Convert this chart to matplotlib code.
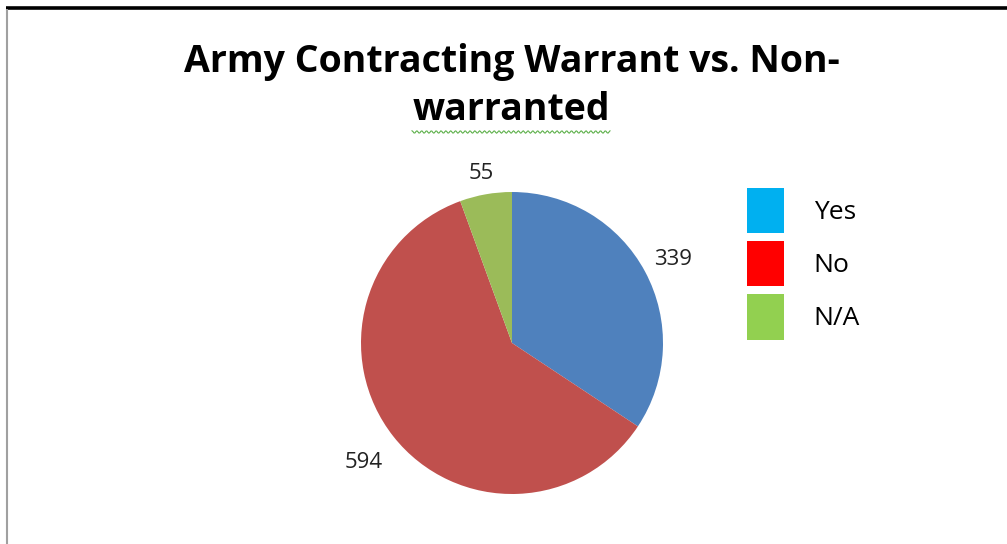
import numpy as np
import matplotlib
matplotlib.use("Agg")
import matplotlib.pyplot as plt
from matplotlib.patches import Patch

categories = ["Yes", "No", "N/A"]
values = [339, 594, 55]
pie_colors = ["#4F81BD", "#C0504D", "#9BBB59"]
legend_colors = ["#00B0F0", "#FF0000", "#92D050"]
title_lines = ["Army Contracting Warrant vs. Non-", "warranted"]
label_dist = [1.21, 1.25, 1.16]

W, H = 1007, 544
fig = plt.figure(figsize=(W / 100, H / 100), dpi=100)
fig.patch.set_facecolor("white")
ax = fig.add_axes([0, 0, 1, 1])

cx, cy, r = 512, H - 343, 151
wedges, _ = ax.pie(values, colors=pie_colors, startangle=90, counterclock=False,
                   center=(cx, cy), radius=r, frame=True,
                   wedgeprops=dict(edgecolor="none", linewidth=0))
ax.set_xlim(0, W)
ax.set_ylim(0, H)
ax.set_aspect("equal")
ax.axis("off")

for w, v, d in zip(wedges, values, label_dist):
    ang = np.deg2rad((w.theta1 + w.theta2) / 2)
    ax.text(cx + d * r * np.cos(ang), cy + d * r * np.sin(ang), str(v),
            ha="center", va="center_baseline", fontsize=16, family="Open Sans",
            color="#222222")

# title
ax.text(512, H - 62, title_lines[0], ha="center", va="center",
        fontsize=27, family="Open Sans", fontweight="bold", color="black")
ax.text(511, H - 110, title_lines[1], ha="center", va="center",
        fontsize=27, family="Open Sans", fontweight="bold", color="black")
# spell-check squiggle
xs = np.linspace(412, 610, 200)
ax.plot(xs, H - 132 + 1.2 * np.sin(xs * 1.3), color="#5DB04A", lw=0.8)

# borders
ax.plot([6, W], [H - 7.5, H - 7.5], color="black", lw=2.6, solid_capstyle="butt")
ax.plot([7, 7], [H - 9, 0], color="#A0A0A0", lw=1.5, solid_capstyle="butt")

handles = [Patch(facecolor=c, edgecolor="none") for c in legend_colors]
leg = ax.legend(handles, categories, loc="upper left",
                bbox_to_anchor=(723 / W, 1 - 164 / H), frameon=False,
                prop={"family": "Open Sans", "size": 19},
                handlelength=1.40, handleheight=2.27, labelspacing=0.30,
                handletextpad=1.14)

fig.savefig("out.png", dpi=100, facecolor="white")
